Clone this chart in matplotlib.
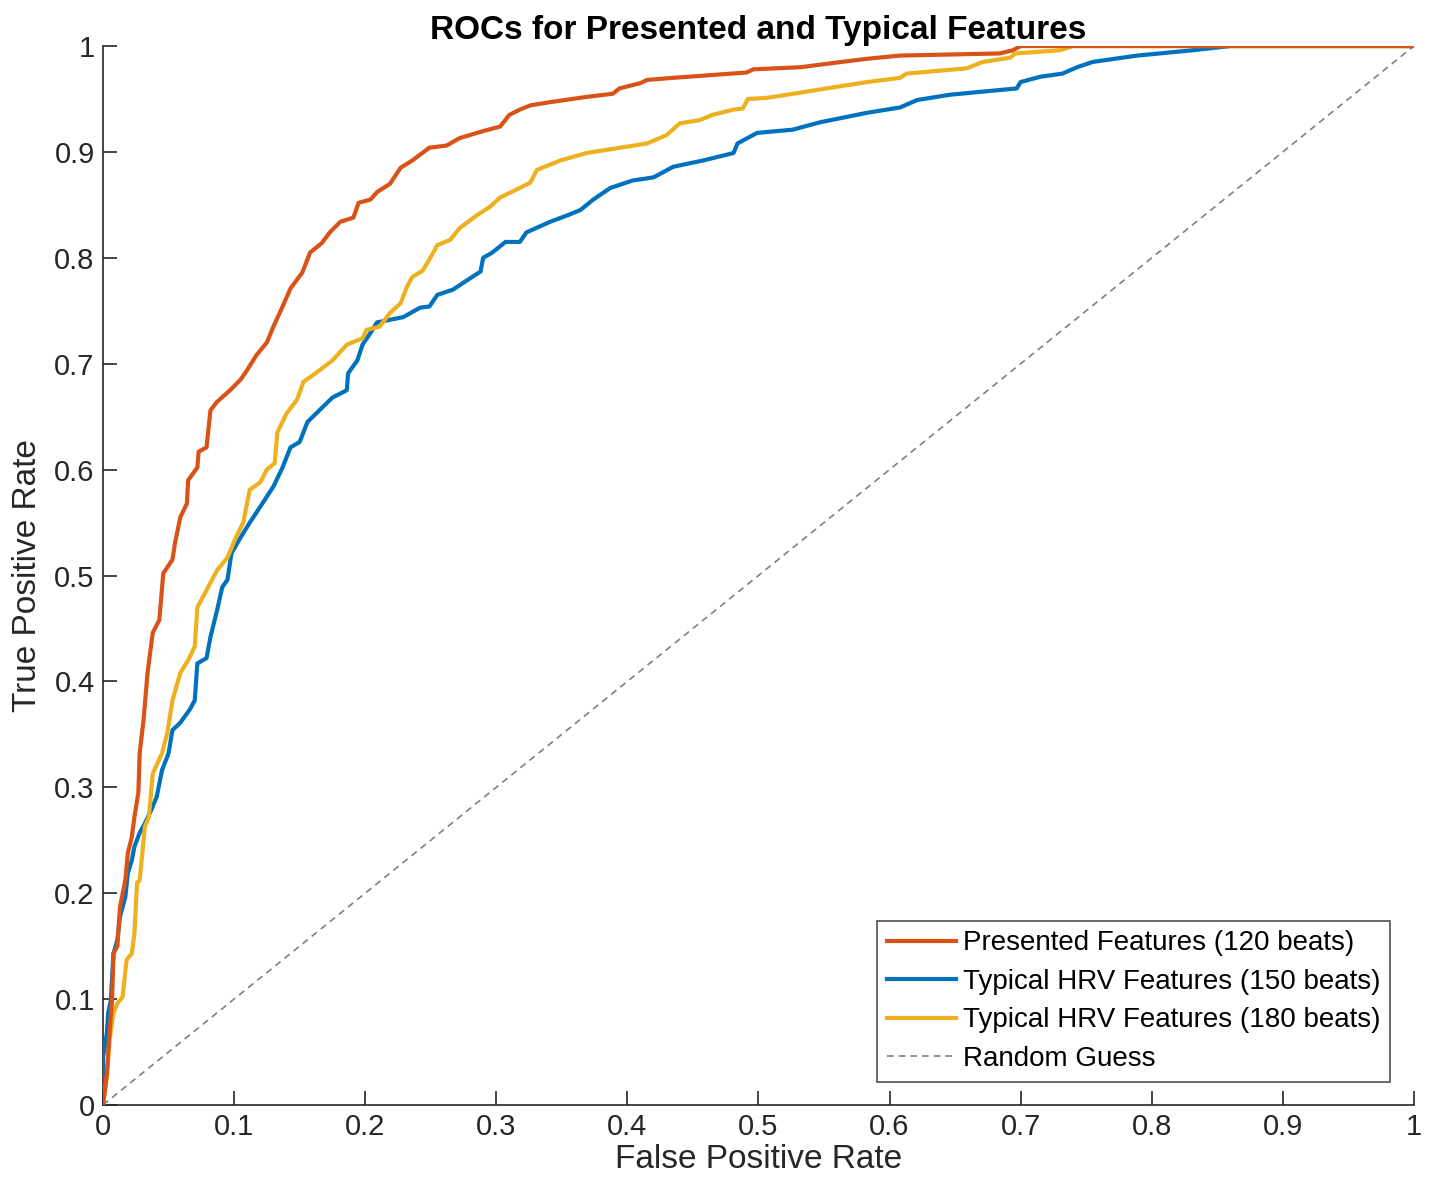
import matplotlib
matplotlib.use("Agg")
import matplotlib.pyplot as plt

plt.rcParams['font.family'] = ['Liberation Sans', 'DejaVu Sans']

# Presented Features (120 beats)
fpr_pres = [0, .003, .005, .007, .008, .011, .013, .017, .019, .022, .024, .027, .028, .031, .034,
            .038, .043, .046, .053, .055, .059, .064, .065, .072, .073, .079, .082, .087, .097,
            .105, .110, .117, .125, .13, .137, .143, .152, .158, .167, .173, .181, .191, .195,
            .204, .209, .219, .227, .236, .249, .262, .272, .288, .303, .31, .318, .326, .341,
            .369, .389, .394, .41, .415, .435, .491, .496, .532, .557, .583, .608, .684, .694,
            .70, 1.0]
tpr_pres = [0, .03, .068, .10, .143, .15, .187, .212, .238, .253, .272, .295, .332, .364, .408,
            .446, .458, .502, .515, .531, .555, .568, .59, .602, .617, .621, .656, .664, .675,
            .685, .694, .708, .72, .735, .754, .771, .786, .805, .814, .824, .834, .838, .852,
            .855, .862, .870, .885, .892, .904, .906, .913, .919, .924, .935, .94, .944, .947,
            .952, .955, .96, .965, .968, .970, .975, .978, .98, .984, .988, .991, .993, .996,
            1.0, 1.0]

# Typical HRV Features (150 beats)
fpr_150 = [0, 0, 0, .003, .004, .006, .008, .011, .013, .017, .019, .022, .024, .028, .032, .037,
           .041, .045, .05, .053, .059, .066, .07, .072, .079, .082, .087, .091, .095, .098,
           .105, .112, .12, .13, .137, .143, .15, .156, .175, .186, .187, .194, .198, .204,
           .209, .229, .242, .249, .255, .267, .278, .288, .29, .297, .307, .318, .323, .341,
           .354, .364, .374, .387, .404, .42, .435, .458, .481, .484, .499, .526, .547, .583,
           .608, .621, .646, .697, .70, .715, .732, .743, .755, .789, .831, .86, 1.0]
tpr_150 = [0, .024, .045, .068, .087, .099, .143, .156, .178, .196, .219, .231, .244, .257, .266,
           .279, .291, .316, .332, .354, .361, .373, .382, .417, .422, .442, .467, .489, .496,
           .521, .536, .55, .565, .584, .602, .621, .626, .645, .668, .675, .691, .703, .718,
           .729, .739, .744, .753, .754, .765, .77, .779, .787, .80, .805, .815, .815, .824,
           .834, .840, .845, .855, .866, .873, .876, .886, .892, .899, .908, .918, .921, .928,
           .937, .942, .949, .954, .96, .966, .971, .974, .98, .985, .991, .996, 1.0, 1.0]

# Typical HRV Features (180 beats)
fpr_180 = [0, .003, .005, .008, .011, .015, .018, .022, .024, .026, .028, .032, .035, .038, .045,
           .049, .053, .059, .065, .07, .072, .079, .087, .095, .101, .107, .112, .12, .125,
           .131, .133, .14, .148, .153, .160, .175, .186, .198, .201, .211, .219, .227, .232,
           .236, .244, .252, .255, .265, .272, .285, .295, .303, .318, .326, .331, .349, .369,
           .415, .43, .44, .455, .465, .481, .488, .492, .506, .532, .557, .583, .608, .613,
           .659, .671, .692, .696, .73, .74, 1.0]
tpr_180 = [0, .026, .061, .087, .096, .102, .137, .143, .162, .21, .212, .263, .272, .313, .332,
           .351, .382, .408, .42, .433, .47, .486, .505, .517, .535, .55, .581, .588, .60,
           .606, .635, .653, .666, .683, .689, .703, .718, .724, .732, .735, .748, .757, .773,
           .782, .788, .805, .812, .817, .828, .840, .848, .857, .866, .871, .883, .892, .899,
           .908, .916, .927, .93, .935, .94, .941, .95, .951, .956, .961, .966, .97, .974,
           .979, .985, .989, .993, .996, 1.0, 1.0]

labels = ["Presented Features (120 beats)", "Typical HRV Features (150 beats)",
          "Typical HRV Features (180 beats)", "Random Guess"]
ticks = [0, 0.1, 0.2, 0.3, 0.4, 0.5, 0.6, 0.7, 0.8, 0.9, 1]
tick_labels = ["0", "0.1", "0.2", "0.3", "0.4", "0.5", "0.6", "0.7", "0.8", "0.9", "1"]

fig = plt.figure(figsize=(14.34, 11.96), dpi=100)
ax = fig.add_axes([0.0718, 0.0761, 0.9142, 0.8854])

ax.plot(fpr_pres, tpr_pres, color='#D95319', lw=3, label=labels[0], zorder=4)
ax.plot(fpr_150, tpr_150, color='#0072BD', lw=3, label=labels[1], zorder=3)
ax.plot(fpr_180, tpr_180, color='#EDB120', lw=3, label=labels[2], zorder=3.5)
ax.plot([0, 1], [0, 1], color='#808080', lw=1.2, ls=(0, (4, 3)), label=labels[3], zorder=2)

ax.set_xlim(0, 1)
ax.set_ylim(0, 1)
ax.set_xticks(ticks)
ax.set_xticklabels(tick_labels)
ax.set_yticks(ticks)
ax.set_yticklabels(tick_labels)
ax.tick_params(direction='in', length=10, width=1.2, labelsize=21, colors='#262626', pad=6)
for s in ['top', 'right']:
    ax.spines[s].set_visible(False)
for s in ['left', 'bottom']:
    ax.spines[s].set_linewidth(1.2)
    ax.spines[s].set_color('#262626')

ax.set_xlabel("False Positive Rate", fontsize=24, color='#262626', labelpad=2)
ax.set_ylabel("True Positive Rate", fontsize=24, color='#262626', labelpad=8)
ax.set_title("ROCs for Presented and Typical Features", fontsize=24, fontweight='bold', pad=2)

leg = ax.legend(loc='lower right', fontsize=20, frameon=True, fancybox=False,
                edgecolor='#262626', handlelength=2.5, handletextpad=0.25,
                borderpad=0.35, labelspacing=0.45, borderaxespad=0,
                bbox_to_anchor=(0.982, 0.022))
leg.get_frame().set_linewidth(1.2)

fig.savefig("out.png", dpi=100)
